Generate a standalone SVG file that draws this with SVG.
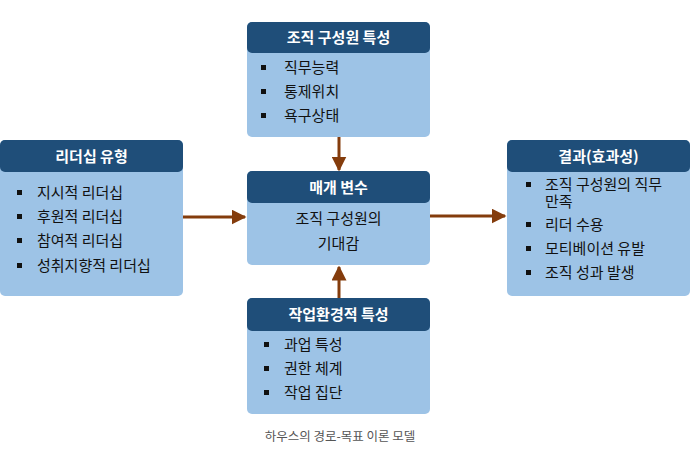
<svg xmlns="http://www.w3.org/2000/svg" width="698" height="459" viewBox="0 0 698 459">
<style>
.body{fill:#9DC3E6;}
.head{fill:#1F4E79;}
.ht{font-family:"Noto Sans CJK KR","Noto Sans",sans-serif;font-size:15px;font-weight:bold;fill:#fff;text-anchor:middle;}
.t{font-family:"Noto Sans CJK KR","Noto Sans",sans-serif;font-size:15px;fill:#111;}
.tc{font-family:"Noto Sans CJK KR","Noto Sans",sans-serif;font-size:15px;fill:#111;text-anchor:middle;}
.b{fill:#111;}
.cap{font-family:"Noto Sans CJK KR","Noto Sans",sans-serif;font-size:12.5px;fill:#555;text-anchor:middle;}
.arr{stroke:#843C0C;stroke-width:3;fill:none;}
</style>
<defs>
<marker id="ah" viewBox="0 0 10 10" refX="9" refY="5" markerWidth="5" markerHeight="5" orient="auto" markerUnits="strokeWidth">
<path d="M0,0 L10,5 L0,10 Z" fill="#843C0C"/>
</marker>
</defs>
<rect width="698" height="459" fill="#fff"/>
<g id="connectors">
<line class="arr" x1="183" y1="217" x2="245" y2="217" marker-end="url(#ah)"/>
<line class="arr" x1="430" y1="216" x2="505" y2="216" marker-end="url(#ah)"/>
<line class="arr" x1="339" y1="137" x2="339" y2="170" marker-end="url(#ah)"/>
<line class="arr" x1="339" y1="298" x2="339" y2="267" marker-end="url(#ah)"/>
</g>
<g id="node-top">
<rect class="body" x="247" y="22" width="183" height="115" rx="5"/>
<rect class="head" x="247" y="22" width="183" height="31" rx="5"/>
<text class="ht" x="338.5" y="43">조직 구성원 특성</text>
<rect class="b" x="261" y="65" width="5" height="5"/><text class="t" x="284" y="73">직무능력</text>
<rect class="b" x="261" y="89" width="5" height="5"/><text class="t" x="284" y="97">통제위치</text>
<rect class="b" x="261" y="113" width="5" height="5"/><text class="t" x="284" y="121">욕구상태</text>
</g>
<g id="node-left">
<rect class="body" x="0" y="140" width="183" height="156" rx="5"/>
<rect class="head" x="0" y="140" width="183" height="32" rx="5"/>
<text class="ht" x="91.5" y="162">리더십 유형</text>
<rect class="b" x="17" y="190" width="5" height="5"/><text class="t" x="37" y="198">지시적 리더십</text>
<rect class="b" x="17" y="214" width="5" height="5"/><text class="t" x="37" y="222">후원적 리더십</text>
<rect class="b" x="17" y="238" width="5" height="5"/><text class="t" x="37" y="246">참여적 리더십</text>
<rect class="b" x="17" y="263" width="5" height="5"/><text class="t" x="37" y="271">성취지향적 리더십</text>
</g>
<g id="node-middle">
<rect class="body" x="247" y="171" width="183" height="94" rx="5"/>
<rect class="head" x="247" y="171" width="183" height="32" rx="5"/>
<text class="ht" x="338.5" y="193">매개 변수</text>
<text class="tc" x="338.5" y="224">조직 구성원의</text>
<text class="tc" x="338.5" y="249">기대감</text>
</g>
<g id="node-right">
<rect class="body" x="507" y="140" width="183" height="156" rx="5"/>
<rect class="head" x="507" y="140" width="183" height="32" rx="5"/>
<text class="ht" x="598.5" y="162">결과(효과성)</text>
<rect class="b" x="526" y="182" width="5" height="5"/><text class="t" x="545" y="190"><tspan x="545" y="190">조직 구성원의 직무</tspan><tspan x="545" y="207">만족</tspan></text>
<rect class="b" x="526" y="222" width="5" height="5"/><text class="t" x="545" y="230">리더 수용</text>
<rect class="b" x="526" y="246" width="5" height="5"/><text class="t" x="545" y="254">모티베이션 유발</text>
<rect class="b" x="526" y="270" width="5" height="5"/><text class="t" x="545" y="278">조직 성과 발생</text>
</g>
<g id="node-bottom">
<rect class="body" x="247" y="298" width="183" height="116" rx="5"/>
<rect class="head" x="247" y="298" width="183" height="33" rx="5"/>
<text class="ht" x="338.5" y="320">작업환경적 특성</text>
<rect class="b" x="264" y="342" width="5" height="5"/><text class="t" x="284" y="350">과업 특성</text>
<rect class="b" x="264" y="366" width="5" height="5"/><text class="t" x="284" y="374">권한 체계</text>
<rect class="b" x="264" y="390" width="5" height="5"/><text class="t" x="284" y="398">작업 집단</text>
</g>
<text class="cap" x="340" y="441">하우스의 경로-목표 이론 모델</text>
</svg>
